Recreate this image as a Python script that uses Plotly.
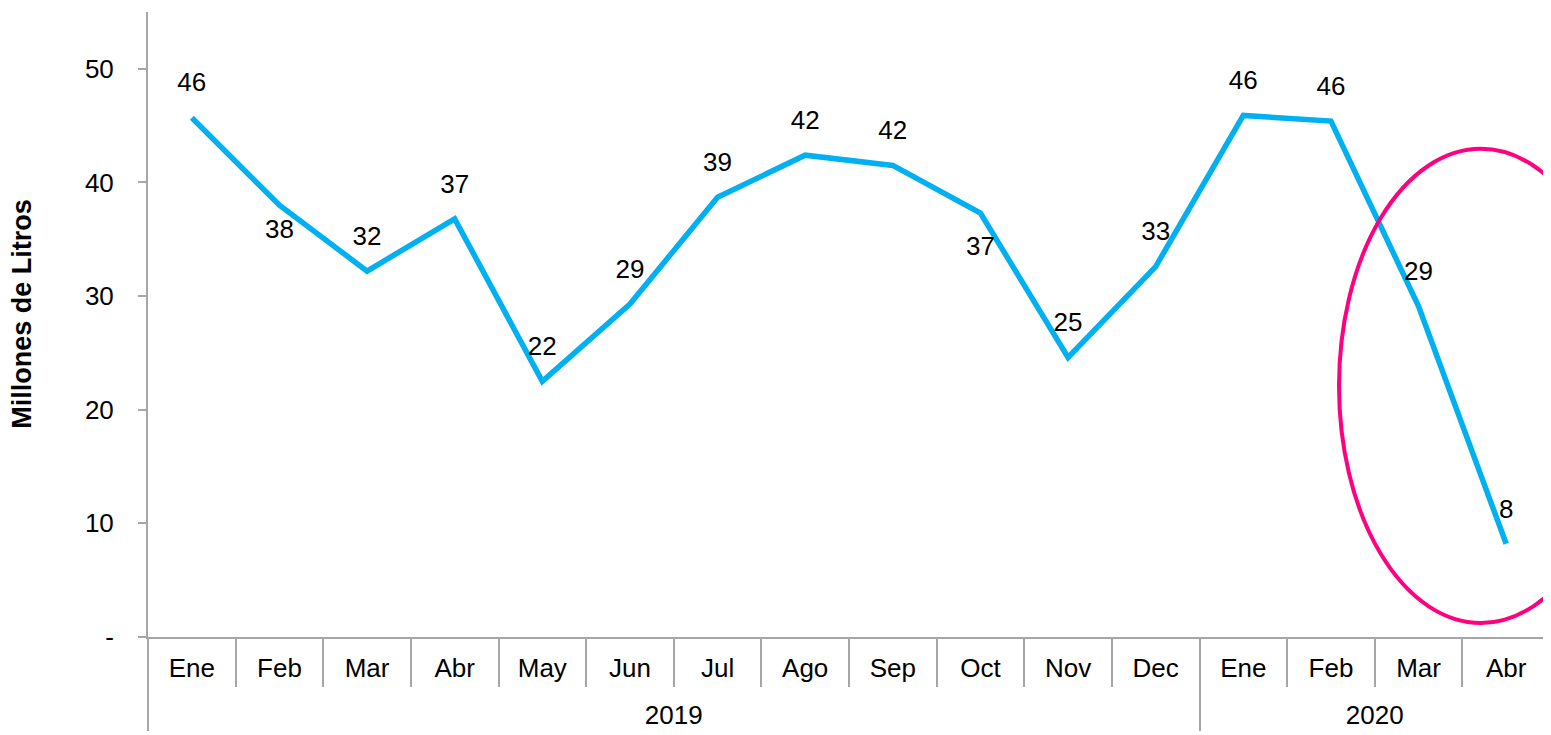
import plotly.graph_objects as go

years = ["2019"] * 12 + ["2020"] * 4
months = ["Ene", "Feb", "Mar", "Abr", "May", "Jun", "Jul", "Ago", "Sep", "Oct", "Nov", "Dec",
          "Ene", "Feb", "Mar", "Abr"]
values = [45.7, 38.0, 32.2, 36.8, 22.5, 29.3, 38.7, 42.4, 41.5, 37.3, 24.6, 32.6,
          45.9, 45.4, 29.1, 8.2]
labels = ["46", "38", "32", "37", "22", "29", "39", "42", "42", "37", "25", "33",
          "46", "46", "29", "8"]
label_pos = ["top center", "bottom center", "top center", "top center", "top center",
             "top center", "top center", "top center", "top center", "bottom center",
             "top center", "top center", "top center", "top center", "top center", "top center"]
y_tickvals = [0, 10, 20, 30, 40, 50]
y_ticktext = ["-", "10", "20", "30", "40", "50"]
y_title = "Millones de Litros"

FONT = "Liberation Sans, Arial, sans-serif"
SPAN = "<span style='font-size:26px'>{}</span>"

year_axis = ["<br><br>" + SPAN.format(y) for y in years]
month_axis = [SPAN.format(m) for m in months]
x = [year_axis, month_axis]
# invisible marker sizes used only to space the data labels from the line
label_gap = [30, 20, 30, 30, 30, 30, 30, 30, 30, 34, 30, 30, 30, 30, 30, 30]

fig = go.Figure()
fig.add_trace(go.Scatter(
    x=x, y=values, mode="lines",
    line=dict(color="#00B0F0", width=5.5), hoverinfo="skip", showlegend=False,
))
fig.add_trace(go.Scatter(
    x=x, y=values, mode="markers+text",
    marker=dict(size=label_gap, color="rgba(0,0,0,0)", line=dict(width=0)),
    text=labels, textposition=label_pos,
    textfont=dict(family=FONT, size=26, color="black"),
    showlegend=False, hoverinfo="skip",
))

fig.add_shape(type="circle", xref="paper", yref="paper",
              x0=0.8495, x1=1.052, y0=0.0224, y1=0.781,
              line=dict(color="#FF0080", width=4))

fig.add_annotation(text="<b>" + y_title + "</b>", textangle=-90,
                   xref="paper", yref="paper", x=-0.0899, y=0.517,
                   xanchor="center", yanchor="middle", showarrow=False,
                   font=dict(family=FONT, size=27, color="black"))

fig.update_layout(
    width=1543, height=727,
    margin=dict(l=140, r=1, t=4, b=98),
    plot_bgcolor="white", paper_bgcolor="white",
    font=dict(family=FONT, size=26, color="black"),
    xaxis=dict(
        type="multicategory", showgrid=False, range=[-0.5, 15.5], autorange=False,
        automargin=False,
        showline=True, linecolor="#A6A6A6", linewidth=2,
        ticks="outside", tickson="boundaries", ticklen=48, tickcolor="#A6A6A6", tickwidth=1.5,
        showdividers=True, dividercolor="#A6A6A6", dividerwidth=1.5,
        ticklabelstandoff=21,
        tickfont=dict(family=FONT, size=14, color="black"),
    ),
    yaxis=dict(
        range=[0, 55], tickvals=y_tickvals, ticktext=y_ticktext,
        automargin=False,
        showgrid=False, zeroline=False,
        showline=True, linecolor="#A6A6A6", linewidth=2,
        ticks="outside", ticklen=8, tickcolor="#A6A6A6", tickwidth=1.5,
        ticklabelstandoff=19,
        tickfont=dict(family=FONT, size=26, color="black"),
    ),
)

fig.write_html("out.html")
